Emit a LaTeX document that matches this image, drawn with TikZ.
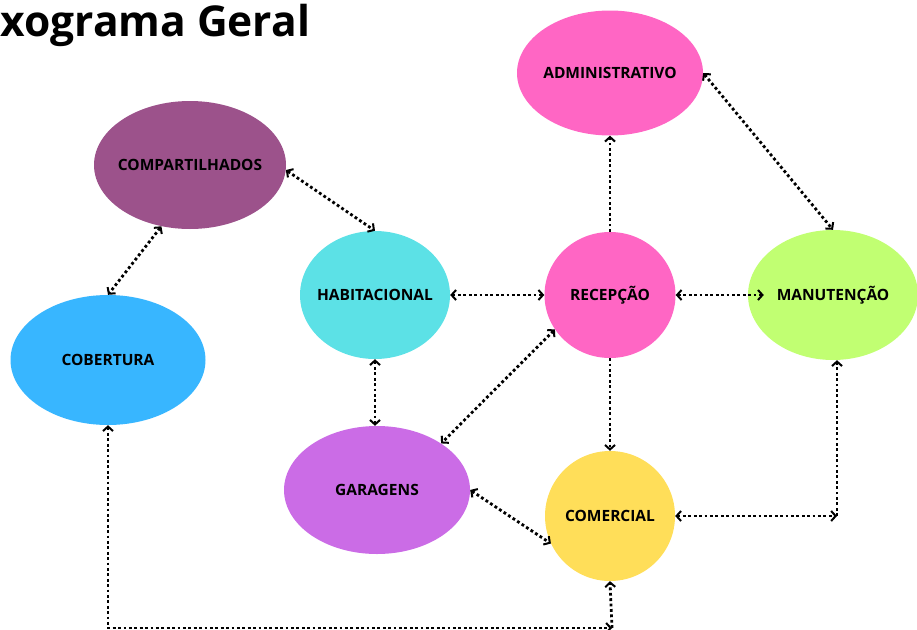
\documentclass[tikz,border=0pt]{standalone}
\usepackage{fontspec}
\setmainfont{Open Sans}
\usetikzlibrary{shapes.geometric,arrows.meta}

\definecolor{rosa}{HTML}{FF66C4}
\definecolor{roxo}{HTML}{9C528B}
\definecolor{ciano}{HTML}{5CE1E6}
\definecolor{verde}{HTML}{C1FF72}
\definecolor{azul}{HTML}{38B6FF}
\definecolor{lilas}{HTML}{CB6CE6}
\definecolor{amarelo}{HTML}{FFDE59}

\begin{document}
\begin{tikzpicture}[x=1pt, y=-1pt,
	setor/.style = {ellipse, inner xsep=-40pt, inner ysep=0pt, font=\fontsize{15.5}{17}\selectfont\bfseries},
	ligacao/.style = {line width=2.8pt, dash pattern=on 2.8pt off 2.6pt,
		{Straight Barb[length=4.5pt,width=10pt,line width=2pt]}-{Straight Barb[length=4.5pt,width=10pt,line width=2pt]}},
	seta/.style = {line width=2.8pt, dash pattern=on 2.8pt off 2.6pt,
		-{Straight Barb[length=4.5pt,width=10pt,line width=2pt]}}]
	\useasboundingbox (0,0) rectangle (917,629);

	\node[anchor=base west, font=\fontsize{42.5}{44}\selectfont\bfseries] (titulo) at (-3,36) {xograma Geral};

	% setores
	\node[setor, fill=rosa, minimum width=186, minimum height=125] (admin) at (610,73) {ADMINISTRATIVO};
	\node[setor, fill=roxo, minimum width=192, minimum height=128] (comp) at (190,165) {COMPARTILHADOS};
	\node[setor, fill=ciano, minimum width=150, minimum height=128] (hab) at (375,295) {HABITACIONAL};
	\node[setor, fill=rosa, minimum width=131, minimum height=126] (rec) at (610,295) {RECEPÇÃO};
	\node[setor, fill=verde, minimum width=170, minimum height=130] (manut) at (833,295) {MANUTENÇÃO};
	\node[setor, fill=azul, minimum width=195, minimum height=130] (cob) at (108,360) {COBERTURA};
	\node[setor, fill=lilas, minimum width=186, minimum height=128] (gar) at (377,490) {GARAGENS};
	\node[setor, fill=amarelo, minimum width=130, minimum height=130] (com) at (610,516) {COMERCIAL};

	\coordinate (cantoD) at (837,516);
	\coordinate (cantoB) at (612,628);

	% ligacoes
	\draw[ligacao] (comp.-3) -- (hab.north);
	\draw[ligacao] (admin.east) -- (manut.north);
	\draw[ligacao] (comp.-115) -- (cob.north);
	\draw[ligacao] (hab.east) -- (rec.west);
	\draw[ligacao] (rec.east) -- ([xshift=16pt]manut.west);
	\draw[seta] (rec.north) -- (admin.south);
	\draw[seta] (rec.south) -- (com.north);
	\draw[ligacao] (rec.-148) -- (gar.36);
	\draw[ligacao] (hab.south) -- (hab.south |- gar.north);
	\draw[ligacao] (gar.east) -- (com.205);
	\draw[ligacao] (com.east) -- (cantoD);
	\draw[seta] (cantoD) -- (cantoD |- manut.south);
	\draw[ligacao] (cob.south) |- (cantoB);
	\draw[seta] (cantoB) -- (com.south);
\end{tikzpicture}
\end{document}
